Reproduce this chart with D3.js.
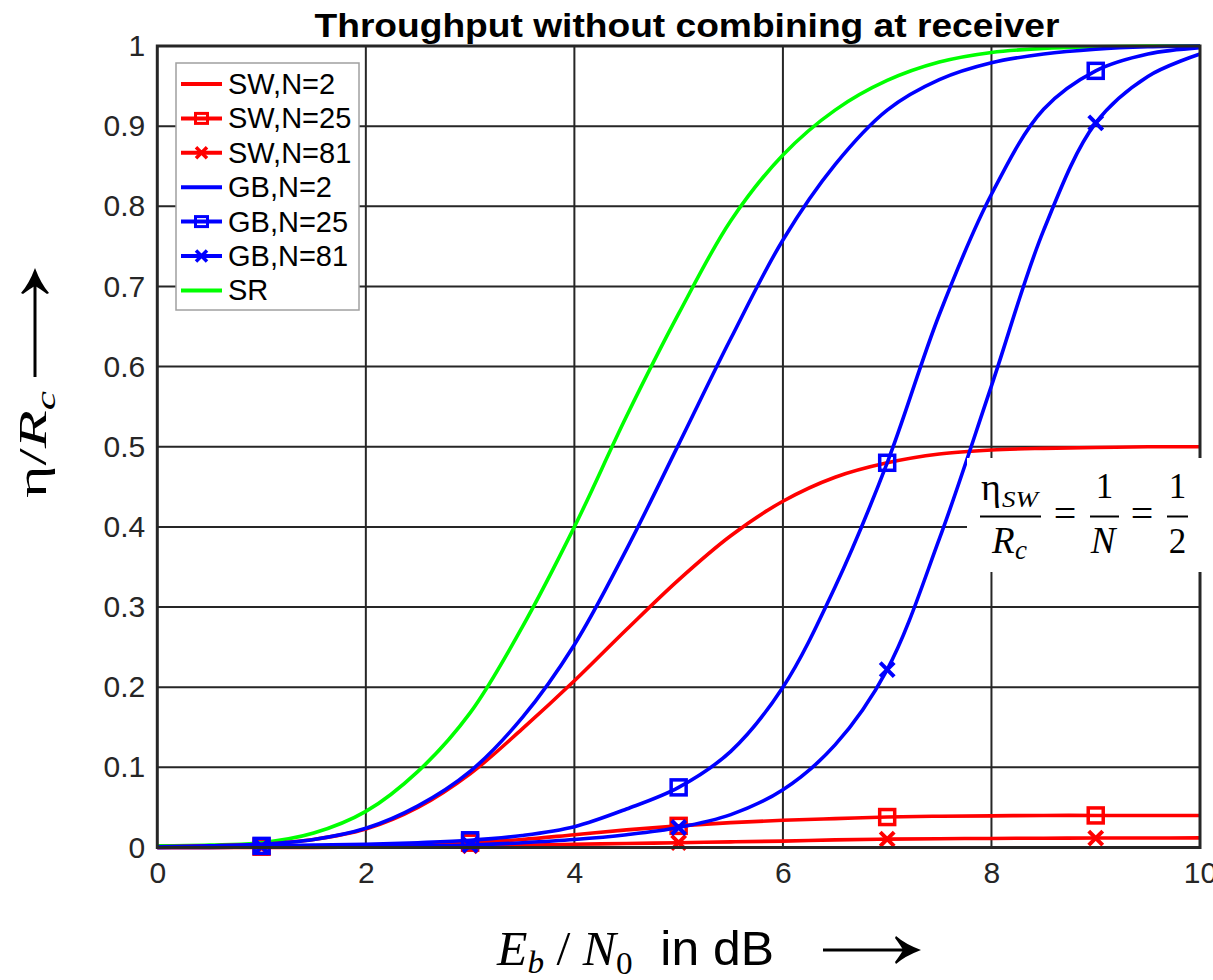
<!DOCTYPE html>
<html>
<head>
<meta charset="utf-8">
<script src="https://cdn.jsdelivr.net/npm/d3@7/dist/d3.min.js"></script>
<style>
  body { margin: 0; background: #fff; }
  svg { display: block; }
</style>
</head>
<body>
<svg id="chart" width="1213" height="980"></svg>
<script>
// Eb/N0 grid in dB
const ebn0 = [0, 0.5, 1, 1.5, 2, 2.5, 3, 3.5, 4, 4.5, 5, 5.5, 6, 6.5, 7, 7.5, 8, 8.5, 9, 9.5, 10];

// Normalised throughput eta/Rc
const swN2  = [0.001, 0.002, 0.004, 0.010, 0.023, 0.050, 0.092, 0.148, 0.208, 0.272, 0.334, 0.389, 0.432, 0.462, 0.480, 0.491, 0.496, 0.498, 0.499, 0.500, 0.500];
const swN25 = [0.000, 0.000, 0.001, 0.001, 0.002, 0.003, 0.006, 0.010, 0.016, 0.022, 0.027, 0.031, 0.034, 0.036, 0.038, 0.039, 0.0395, 0.040, 0.040, 0.040, 0.040];
const swN81 = [0.000, 0.000, 0.000, 0.000, 0.001, 0.001, 0.002, 0.003, 0.004, 0.005, 0.006, 0.007, 0.008, 0.0095, 0.0105, 0.011, 0.0113, 0.0116, 0.0118, 0.0119, 0.012];
const gbN2  = [0.001, 0.002, 0.004, 0.010, 0.024, 0.052, 0.095, 0.162, 0.253, 0.372, 0.503, 0.635, 0.758, 0.852, 0.920, 0.958, 0.979, 0.990, 0.996, 0.999, 1.000];
const gbN25 = [0.000, 0.001, 0.002, 0.003, 0.004, 0.006, 0.009, 0.015, 0.026, 0.048, 0.075, 0.120, 0.200, 0.325, 0.480, 0.665, 0.815, 0.921, 0.969, 0.990, 0.998];
const gbN81 = [0.000, 0.000, 0.001, 0.001, 0.002, 0.002, 0.003, 0.006, 0.010, 0.016, 0.025, 0.041, 0.072, 0.128, 0.222, 0.385, 0.576, 0.770, 0.904, 0.962, 0.990];
const srVals = [0.002, 0.003, 0.006, 0.018, 0.045, 0.095, 0.168, 0.275, 0.400, 0.538, 0.666, 0.782, 0.864, 0.920, 0.957, 0.980, 0.992, 0.997, 0.999, 1.000, 1.000];

// Marker positions (dB)
const markerEbn0 = [1, 3, 5, 7, 9];

// Axis ticks
const xTicks = [0, 2, 4, 6, 8, 10];
const yTicks = [0, 0.1, 0.2, 0.3, 0.4, 0.5, 0.6, 0.7, 0.8, 0.9, 1];
const yTickLabels = ["0", "0.1", "0.2", "0.3", "0.4", "0.5", "0.6", "0.7", "0.8", "0.9", "1"];

const seriesNames  = ["SW,N=2", "SW,N=25", "SW,N=81", "GB,N=2", "GB,N=25", "GB,N=81", "SR"];
const seriesColors = ["#ff0000", "#ff0000", "#ff0000", "#0000ff", "#0000ff", "#0000ff", "#00ff00"];
const seriesMarkers = ["none", "square", "x", "none", "square", "x", "none"];
const seriesValues = [swN2, swN25, swN81, gbN2, gbN25, gbN81, srVals];

const series = seriesNames.map((name, i) => ({
  name, color: seriesColors[i], marker: seriesMarkers[i],
  points: ebn0.map((x, j) => ({ x, y: seriesValues[i][j] }))
}));

const svg = d3.select("#chart");
const pLeft = 157.3, pRight = 1200, pTop = 46, pBottom = 847.5;
const x = d3.scaleLinear().domain([0, 10]).range([pLeft, pRight]);
const y = d3.scaleLinear().domain([0, 1]).range([pBottom, pTop]);
const axisColor = "#262626";
const sans = "Liberation Sans, Arial, sans-serif";
const serif = "Liberation Serif, Times New Roman, serif";

svg.append("rect").attr("width", 1213).attr("height", 980).attr("fill", "#fff");

// grid
const grid = svg.append("g");
grid.selectAll(".gx").data(xTicks.slice(1, -1)).join("line").attr("class", "gx")
  .attr("x1", d => x(d)).attr("x2", d => x(d))
  .attr("y1", pTop).attr("y2", pBottom)
  .attr("stroke", axisColor).attr("stroke-width", 2);
grid.selectAll(".gy").data(yTicks.slice(1, -1)).join("line").attr("class", "gy")
  .attr("x1", pLeft).attr("x2", pRight)
  .attr("y1", d => y(d)).attr("y2", d => y(d))
  .attr("stroke", axisColor).attr("stroke-width", 2);

// axes (tick labels; the frame is drawn as a box)
const xAxis = d3.axisBottom(x).tickValues(xTicks).tickSize(0).tickPadding(14).tickFormat(d3.format("d"));
const gx = svg.append("g").attr("transform", `translate(0,${pBottom})`).call(xAxis);
gx.select(".domain").remove();
gx.selectAll("text").attr("font-family", sans).attr("font-size", 30).attr("fill", axisColor);

const yAxis = d3.axisLeft(y).tickValues(yTicks).tickSize(0).tickPadding(12)
  .tickFormat((d, i) => yTickLabels[i]);
const gy = svg.append("g").attr("transform", `translate(${pLeft},0)`).call(yAxis);
gy.select(".domain").remove();
gy.selectAll("text").attr("font-family", sans).attr("font-size", 30).attr("fill", axisColor);

// curves
const line = d3.line().x(d => x(d.x)).y(d => y(d.y)).curve(d3.curveCatmullRom.alpha(0.5));
const drawOrder = [6, 0, 1, 2, 3, 4, 5];
const plot = svg.append("g");
drawOrder.forEach(i => {
  const s = series[i];
  const g = plot.append("g");
  g.append("path").datum(s.points).attr("d", line)
    .attr("fill", "none").attr("stroke", s.color).attr("stroke-width", 3.6)
    .attr("stroke-linejoin", "round");
  if (s.marker !== "none") {
    const mpts = s.points.filter(p => markerEbn0.includes(p.x));
    if (s.marker === "square") {
      g.selectAll("rect").data(mpts).join("rect")
        .attr("x", d => x(d.x) - 7.5).attr("y", d => y(d.y) - 7.5)
        .attr("width", 15).attr("height", 15)
        .attr("fill", "none").attr("stroke", s.color).attr("stroke-width", 3.5);
    } else {
      g.selectAll("path.xm").data(mpts).join("path").attr("class", "xm")
        .attr("d", d => {
          const cx = x(d.x), cy = y(d.y), r = 7;
          return `M${cx - r},${cy - r}L${cx + r},${cy + r}M${cx - r},${cy + r}L${cx + r},${cy - r}`;
        })
        .attr("stroke", s.color).attr("stroke-width", 4).attr("fill", "none");
    }
  }
});

// axes box
svg.append("rect").attr("x", pLeft).attr("y", pTop)
  .attr("width", pRight - pLeft).attr("height", pBottom - pTop)
  .attr("fill", "none").attr("stroke", axisColor).attr("stroke-width", 3);

// annotation: eta_SW / Rc = 1/N = 1/2
const ann = svg.append("g");
ann.append("rect").attr("x", 967).attr("y", 458).attr("width", 246).attr("height", 114).attr("fill", "#fff");
ann.append("text").attr("x", 981).attr("y", 500).attr("font-family", serif).attr("font-size", 38).text("η");
ann.append("text").attr("x", 1002).attr("y", 507).attr("font-family", serif).attr("font-style", "italic")
  .attr("font-size", 24).attr("textLength", 36).attr("lengthAdjust", "spacingAndGlyphs").text("SW");
ann.append("line").attr("x1", 980).attr("x2", 1041).attr("y1", 516.5).attr("y2", 516.5).attr("stroke", "#000").attr("stroke-width", 2);
ann.append("text").attr("x", 992).attr("y", 553).attr("font-family", serif).attr("font-style", "italic").attr("font-size", 37).text("R");
ann.append("text").attr("x", 1015).attr("y", 559).attr("font-family", serif).attr("font-style", "italic").attr("font-size", 27).text("c");
ann.append("text").attr("x", 1065).attr("y", 527).attr("text-anchor", "middle").attr("font-family", serif).attr("font-size", 40).text("=");
ann.append("text").attr("x", 1104.5).attr("y", 498).attr("text-anchor", "middle").attr("font-family", serif).attr("font-size", 35).text("1");
ann.append("line").attr("x1", 1090).attr("x2", 1119).attr("y1", 516.5).attr("y2", 516.5).attr("stroke", "#000").attr("stroke-width", 2);
ann.append("text").attr("x", 1103).attr("y", 553).attr("text-anchor", "middle").attr("font-family", serif).attr("font-style", "italic").attr("font-size", 37).text("N");
ann.append("text").attr("x", 1142).attr("y", 527).attr("text-anchor", "middle").attr("font-family", serif).attr("font-size", 40).text("=");
ann.append("text").attr("x", 1177.5).attr("y", 498).attr("text-anchor", "middle").attr("font-family", serif).attr("font-size", 35).text("1");
ann.append("line").attr("x1", 1167).attr("x2", 1188).attr("y1", 516.5).attr("y2", 516.5).attr("stroke", "#000").attr("stroke-width", 2);
ann.append("text").attr("x", 1177.5).attr("y", 553).attr("text-anchor", "middle").attr("font-family", serif).attr("font-size", 35).text("2");

// legend
const lg = svg.append("g");
lg.append("rect").attr("x", 176).attr("y", 63).attr("width", 183).attr("height", 247)
  .attr("fill", "#fff").attr("stroke", "#a0a0a0").attr("stroke-width", 1.5);
series.forEach((s, i) => {
  const cy = 84 + i * 34.4;
  const row = lg.append("g");
  row.append("line").attr("x1", 181).attr("x2", 222).attr("y1", cy).attr("y2", cy)
    .attr("stroke", s.color).attr("stroke-width", 4);
  if (s.marker === "square") {
    row.append("rect").attr("x", 195.5).attr("y", cy - 5).attr("width", 12).attr("height", 10)
      .attr("fill", "none").attr("stroke", s.color).attr("stroke-width", 3);
  } else if (s.marker === "x") {
    const r = 5.5, cx = 201.5;
    row.append("path").attr("d", `M${cx - r},${cy - r}L${cx + r},${cy + r}M${cx - r},${cy + r}L${cx + r},${cy - r}`)
      .attr("stroke", s.color).attr("stroke-width", 3.5);
  }
  row.append("text").attr("x", 228).attr("y", cy + 10)
    .attr("font-family", sans).attr("font-size", 29)
    .attr("fill", "#000").text(s.name);
});

// title
svg.append("text").attr("x", 687).attr("y", 37).attr("text-anchor", "middle")
  .attr("font-family", sans).attr("font-weight", "bold")
  .attr("font-size", 34).attr("fill", "#000")
  .attr("textLength", 745).attr("lengthAdjust", "spacingAndGlyphs")
  .text("Throughput without combining at receiver");

// horizontal stretch factor so that a label spans the given width
function fitWidth(sel, width) {
  const bb = sel.node().getBBox();
  return bb.width > 0 ? width / bb.width : 1;
}

// x label
const xl = svg.append("g");
const xlText = xl.append("text").attr("x", 0).attr("y", 0).attr("font-size", 48).attr("fill", "#000");
xlText.append("tspan").attr("font-family", serif).attr("font-style", "italic").text("E");
xlText.append("tspan").attr("font-family", serif).attr("font-style", "italic").attr("font-size", 32).attr("dy", 8).text("b");
xlText.append("tspan").attr("font-family", serif).attr("dy", -8).text("\u00a0/\u00a0");
xlText.append("tspan").attr("font-family", serif).attr("font-style", "italic").text("N");
xlText.append("tspan").attr("font-family", serif).attr("font-size", 32).attr("dy", 9).text("0");
xlText.append("tspan").attr("font-family", sans).attr("dy", -9).text("\u00a0\u00a0in dB");
const sx = fitWidth(xlText, 278);
xl.attr("transform", `translate(497,965) scale(${sx},1)`);

// x label arrow
svg.append("line").attr("x1", 823).attr("x2", 912).attr("y1", 950).attr("y2", 950).attr("stroke", "#000").attr("stroke-width", 3);
svg.append("path").attr("d", "M921,950 Q905,944 896,936 L895,938 Q901,946 903,950 Q901,954 895,962 L896,964 Q905,956 921,950 Z").attr("fill", "#000");

// y label
const yl = svg.append("g");
const ylText = yl.append("text").attr("x", 0).attr("y", 0).attr("font-size", 40).attr("font-family", serif).attr("fill", "#000");
ylText.append("tspan").text("η/");
ylText.append("tspan").attr("font-style", "italic").text("R");
ylText.append("tspan").attr("font-style", "italic").attr("font-size", 28).attr("dy", 9).text("c");
const sy = fitWidth(ylText, 108);
yl.attr("transform", `translate(46,498) rotate(-90) scale(${sy},1)`);

// y label arrow
svg.append("line").attr("x1", 35).attr("x2", 35).attr("y1", 377).attr("y2", 278).attr("stroke", "#000").attr("stroke-width", 3);
svg.append("path").attr("d", "M35,268 Q41,284 49,293 L47,294 Q39,288 35,286 Q31,288 23,294 L21,293 Q29,284 35,268 Z").attr("fill", "#000");
</script>
</body>
</html>
